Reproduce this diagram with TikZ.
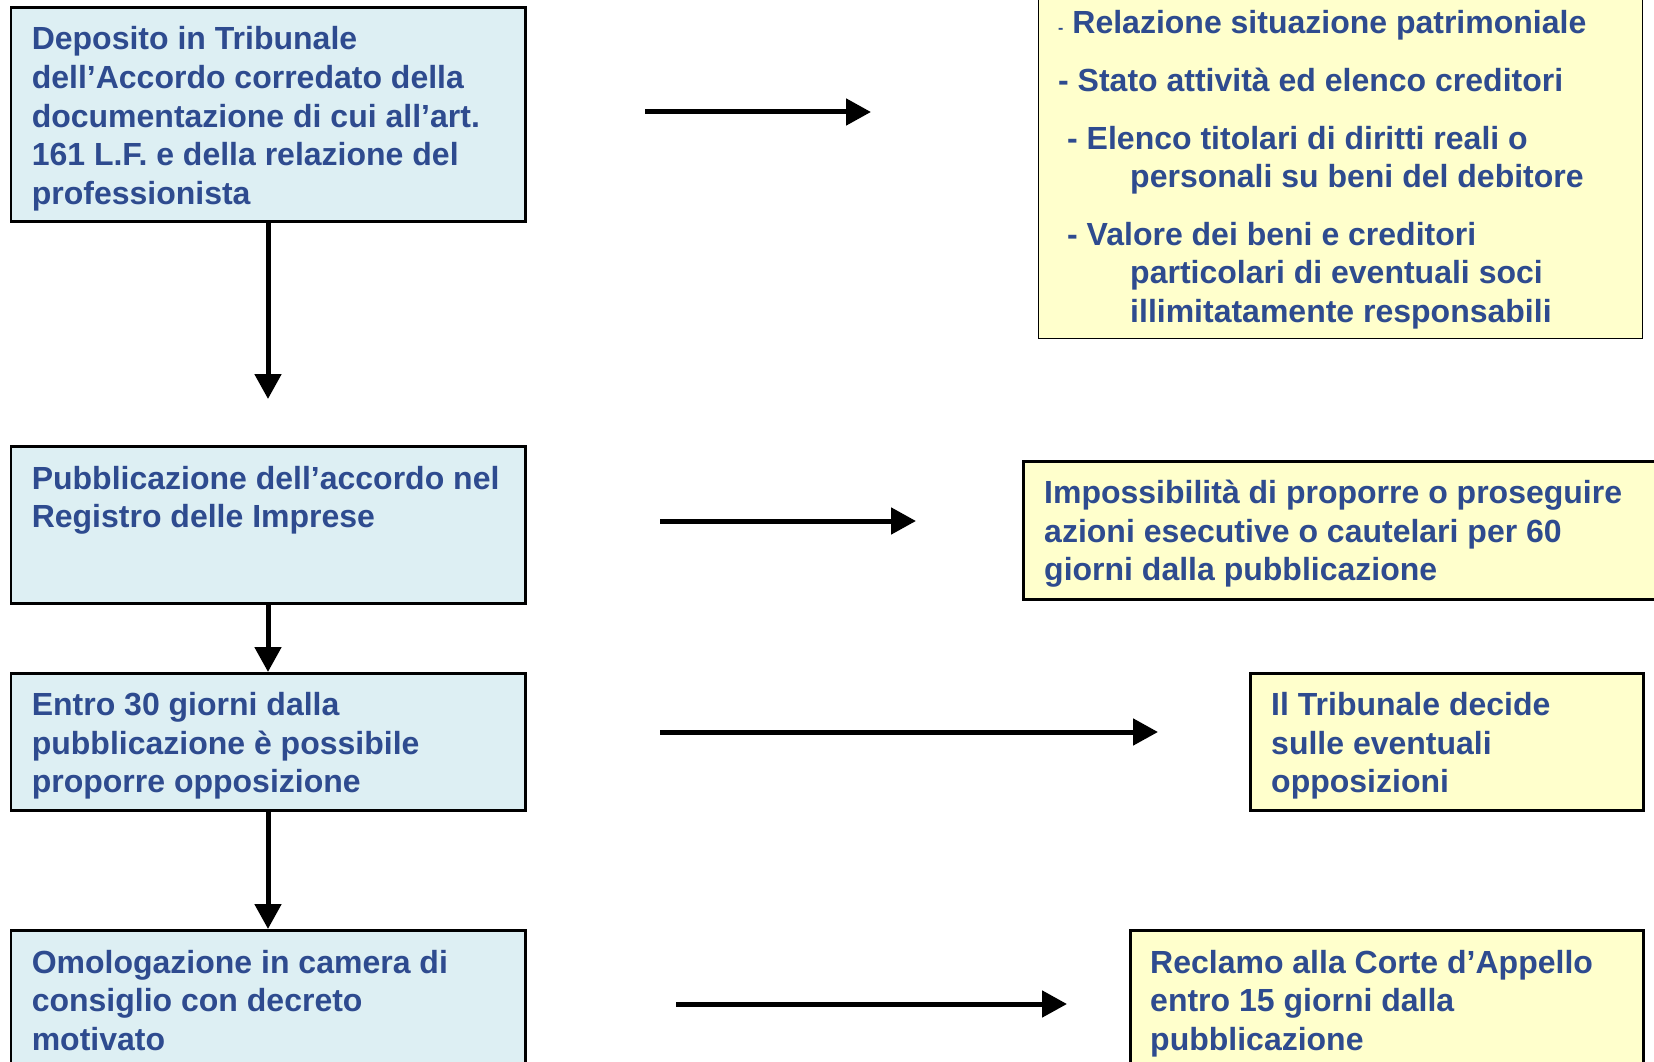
\documentclass[tikz,border=0pt]{standalone}
\usepackage{fontspec}
\setmainfont{Liberation Sans}
\usetikzlibrary{arrows.meta}
\definecolor{txtblue}{HTML}{2E4B8F}
\definecolor{lblue}{HTML}{DDEFF3}
\definecolor{lyellow}{HTML}{FFFFCC}
\begin{document}
\begin{tikzpicture}[x=1pt,y=-1pt,
  lbox/.style={draw=black, line width=2.5pt, fill=lblue, rectangle, inner sep=0pt, anchor=north west},
  ybox/.style={draw=black, line width=2.5pt, fill=lyellow, rectangle, inner sep=0pt, anchor=north west},
  txt/.style={anchor=base west, align=left, inner sep=0pt, text=txtblue, font=\fontsize{32}{38.5}\selectfont\bfseries},
  arr/.style={line width=5pt, -{Triangle[length=25pt,width=26pt]}}
]
\useasboundingbox (0,0) rectangle (1654,1062);
\clip (0,0) rectangle (1654,1062);

% left boxes
\node[lbox, minimum width=514.5pt, minimum height=213.7pt] (b1) at (9.5,6.3) {};
\node[lbox, minimum width=514.5pt, minimum height=157pt] (b2) at (9.5,445) {};
\node[lbox, minimum width=514.5pt, minimum height=137pt] (b3) at (9.5,672) {};
\node[lbox, minimum width=514.5pt, minimum height=150pt] (b4) at (9.5,929) {};

% texts: anchor is the baseline of the last line
\node[txt] (t1) at (31.6,204) {Deposito in Tribunale\\dell’Accordo corredato della\\documentazione di cui all’art.\\161 L.F. e della relazione del\\professionista};
\node[txt] (t2) at (31.6,527.5) {Pubblicazione dell’accordo nel\\Registro delle Imprese};
\node[txt] (t3) at (31.6,792.5) {Entro 30 giorni dalla\\pubblicazione è possibile\\proporre opposizione};
\node[txt] (t4) at (31.6,1050) {Omologazione in camera di\\consiglio con decreto\\motivato};

% right boxes
\node[ybox, line width=1.2pt, minimum width=604pt, minimum height=342.5pt] (r1) at (1038,-5) {};
\node[ybox, minimum width=650pt, minimum height=138pt] (r2) at (1022,460) {};
\node[ybox, minimum width=393pt, minimum height=137pt] (r3) at (1249,672) {};
\node[ybox, minimum width=513pt, minimum height=150pt] (r4) at (1129,929) {};

\node[txt] (s1) at (1058,34) {{\fontsize{16}{16}\selectfont -} Relazione situazione patrimoniale};
\node[txt] (s2) at (1058,92) {- Stato attività ed elenco creditori};
\node[txt] (s3) at (1067,187.5) {- Elenco titolari di diritti reali o\\\hspace*{63pt}personali su beni del debitore};
\node[txt] (s4) at (1067,322) {- Valore dei beni e creditori\\\hspace*{63pt}particolari di eventuali soci\\\hspace*{63pt}illimitatamente responsabili};

\node[txt] (u2) at (1044,580.5) {Impossibilità di proporre o proseguire\\azioni esecutive o cautelari per 60\\giorni dalla pubblicazione};
\node[txt] (u3) at (1271,792.5) {Il Tribunale decide\\sulle eventuali\\opposizioni};
\node[txt] (u4) at (1150,1050) {Reclamo alla Corte d’Appello\\entro 15 giorni dalla\\pubblicazione};

% connector coordinates
\coordinate (v1end) at (268,399);
\coordinate (h1s) at (645,112);  \coordinate (h1e) at (871,112);
\coordinate (h2s) at (660,521);  \coordinate (h2e) at (916,521);
\coordinate (h3s) at (660,732);  \coordinate (h3e) at (1158,732);
\coordinate (h4s) at (676,1004); \coordinate (h4e) at (1067,1004);

% vertical arrows
\draw[arr] (b1.south) -- (v1end);
\draw[arr] (b2.south) -- (b3.north);
\draw[arr] (b3.south) -- (b4.north);

% horizontal arrows
\draw[arr] (h1s) -- (h1e);
\draw[arr] (h2s) -- (h2e);
\draw[arr] (h3s) -- (h3e);
\draw[arr] (h4s) -- (h4e);
\end{tikzpicture}
\end{document}
